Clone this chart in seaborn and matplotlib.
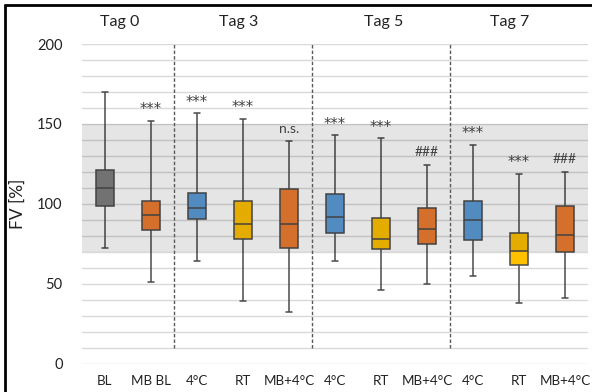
import numpy as np
import pandas as pd
import matplotlib
matplotlib.use("Agg")
import matplotlib.pyplot as plt
from matplotlib.lines import Line2D
import seaborn as sns

# Categories (x order) and day groups
labels = ["BL", "MB BL", "4°C", "RT", "MB+4°C", "4°C", "RT", "MB+4°C", "4°C", "RT", "MB+4°C"]
days = ["Tag 0", "Tag 3", "Tag 5", "Tag 7"]

# Five-number summaries (min, q1, median, q3, max)
fv_min = [72, 51, 64, 39, 32, 64, 46, 50, 55, 38, 41]
fv_q1 = [98.6, 83.4, 90.7, 78.2, 72.4, 82, 71.8, 74.5, 77.6, 61.6, 69.9]
fv_med = [110, 93, 97.4, 87.6, 87.6, 91.8, 78.2, 83.9, 90, 70.5, 80.3]
fv_q3 = [121.4, 102, 107, 102, 109, 106.4, 91, 97.6, 101.8, 81.8, 98.4]
fv_max = [170, 152, 156.5, 153, 139, 142.8, 141, 124.5, 136.8, 118.6, 120]

# Significance marks above the whiskers
marks = ["", "***", "***", "***", "n.s.", "***", "***", "###", "***", "***", "###"]

colors = ["#7F7F7F", "#ED7D31", "#5B9BD5", "#FFC000", "#ED7D31",
          "#5B9BD5", "#FFC000", "#ED7D31", "#5B9BD5", "#FFC000", "#ED7D31"]

# long table: 5 values per box so quartiles land exactly on the summaries
rows = []
for i in range(len(labels)):
    for v in (fv_min[i], fv_q1[i], fv_med[i], fv_q3[i], fv_max[i]):
        rows.append({"pos": i, "FV": v})
df = pd.DataFrame(rows)

sns.set_style("white")
plt.rcParams["font.family"] = ["Lato", "DejaVu Sans"]

fig = plt.figure(figsize=(5.92, 3.92), dpi=100)
ax = fig.add_axes([82 / 592, 1 - 363.5 / 392, 506 / 592, (363.5 - 44) / 392])

# horizontal grid every 10 %
for g in range(0, 201, 10):
    ax.axhline(g, color="#d9d9d9", lw=1.0, zorder=0)

sns.boxplot(data=df, x="pos", y="FV", hue="pos", palette=colors, legend=False,
            saturation=1, whis=(0, 100), width=0.4, linewidth=1.1,
            linecolor="#4a4a4a", capwidths=0.12, ax=ax, zorder=2)

# grey reference band (drawn on top, semi-transparent)
ax.axhspan(70, 150, color="black", alpha=0.1, lw=0, zorder=3)

# day separators
for xs in (1.5, 4.5, 7.5):
    ax.axvline(xs, ymin=10 / 200, ymax=1, color="#595959", lw=1.0,
               ls=(0, (2.5, 1.5)), zorder=4)

# significance marks
for i, m in enumerate(marks):
    if m:
        star = m == "***"
        ax.annotate(m, (i, fv_max[i]), xytext=(0, 8 if star else 9),
                    textcoords="offset points", ha="center", va="center",
                    fontsize=10.5 if star else 10, color="#404040", zorder=5,
                    family=["DejaVu Sans"] if star else ["Lato", "DejaVu Sans"])

# day titles
for d, xp in zip(days, (0.33, 2.9, 6.05, 8.8)):
    ax.text(xp, 213.5, d, ha="center", va="center", fontsize=11.5, color="#222222",
            clip_on=False)

ax.set_xlim(-0.5, 10.5)
ax.set_ylim(0, 200)
ax.set_xticks(range(len(labels)))
ax.set_xticklabels(labels, fontsize=9.6, color="#222222")
ax.set_yticks([0, 50, 100, 150, 200])
ax.set_yticklabels(["0", "50", "100", "150", "200"], fontsize=10.5, color="#222222")
ax.tick_params(axis="both", length=0)
ax.tick_params(axis="y", pad=14)
ax.tick_params(axis="x", pad=8)
ax.set_xlabel("")
ax.set_ylabel("FV [%]", fontsize=12.5, color="#222222", labelpad=8)
sns.despine(ax=ax, left=True, bottom=True)

# frame of the original screenshot (left and top edges)
fig.add_artist(Line2D([5 / 592, 5 / 592], [0, 1 - 5 / 392], color="black", lw=2,
                      transform=fig.transFigure))
fig.add_artist(Line2D([5 / 592, 1], [1 - 5 / 392, 1 - 5 / 392], color="black", lw=2,
                      transform=fig.transFigure))

fig.savefig("out.png", dpi=100)
plt.close(fig)
